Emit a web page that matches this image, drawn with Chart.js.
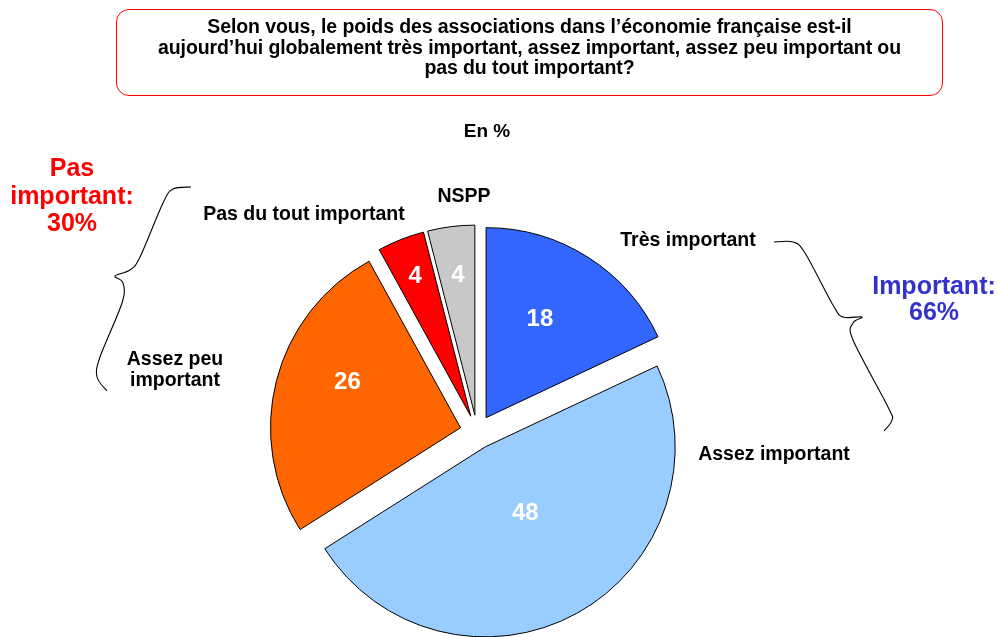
<!DOCTYPE html>
<html lang="fr">
<head>
<meta charset="utf-8">
<script src="https://cdn.jsdelivr.net/npm/chart.js@4/dist/chart.umd.min.js"></script>
<style>
  html, body { margin: 0; padding: 0; background: #fff; }
  #wrap { position: relative; width: 999px; height: 637px; overflow: hidden;
          font-family: "Liberation Sans", Arial, sans-serif; font-weight: bold; }
  #chart { position: absolute; left: 0; top: 0; }
  .txt { position: absolute; transform: translate(-50%, -50%); text-align: center; white-space: nowrap; }
  #question { position: absolute; left: 116px; top: 9px; width: 827px; height: 87px; box-sizing: border-box;
              border: 1.5px solid #ff0000; border-radius: 13px; text-align: center;
              font-size: 19.5px; line-height: 20.5px; padding-top: 6px; color: #000; letter-spacing: -0.1px; }
</style>
</head>
<body>
<div id="wrap">
  <canvas id="chart" width="999" height="637"></canvas>
  <div id="question">Selon vous, le poids des associations dans l’économie française est-il<br>aujourd’hui globalement très important, assez important, assez peu important ou<br>pas du tout important?</div>
  <div class="txt" style="left:487px; top:131px; font-size:19px;">En %</div>
  <div class="txt" style="left:72px; top:195px; font-size:25px; line-height:27.5px; color:#ff0000;">Pas<br>important:<br>30%</div>
  <div class="txt" style="left:934px; top:298px; font-size:25px; line-height:26px; color:#3333cc;">Important:<br>66%</div>
</div>
<script>
// =============================================
// Data
// =============================================
const categories = ['Très important', 'Assez important', 'Assez peu important', 'Pas du tout important', 'NSPP'];
const values     = [18, 48, 26, 4, 4];
const sliceColors = ['#3366ff', '#99ccff', '#ff6600', '#ff0000', '#c8c8c8'];

const EXPLODE = 17;   // px each slice is pushed out along its bisector

// Exploded slices without Chart.js' radius growth from `offset`
const baseArcDraw = Chart.ArcElement.prototype.draw;
Chart.ArcElement.prototype.draw = function (ctx) {
  const mid = (this.startAngle + this.endAngle) / 2;
  ctx.save();
  ctx.translate(Math.cos(mid) * EXPLODE, Math.sin(mid) * EXPLODE);
  baseArcDraw.call(this, ctx);
  ctx.restore();
};

// =============================================
// Label + brace plugin
// =============================================
function smoothCurve(ctx, pts) {
  ctx.beginPath();
  ctx.moveTo(pts[0][0], pts[0][1]);
  for (let i = 0; i < pts.length - 1; i++) {
    const p0 = pts[i - 1] || pts[i];
    const p1 = pts[i];
    const p2 = pts[i + 1];
    const p3 = pts[i + 2] || p2;
    ctx.bezierCurveTo(
      p1[0] + (p2[0] - p0[0]) / 6, p1[1] + (p2[1] - p0[1]) / 6,
      p2[0] - (p3[0] - p1[0]) / 6, p2[1] - (p3[1] - p1[1]) / 6,
      p2[0], p2[1]);
  }
  ctx.stroke();
}

const pieLabels = {
  id: 'pieLabels',
  afterDatasetsDraw(chart, args, opts) {
    const ctx = chart.ctx;
    const meta = chart.getDatasetMeta(0);
    ctx.save();
    ctx.textAlign = 'center';
    ctx.textBaseline = 'middle';

    // values inside the slices
    ctx.fillStyle = '#fff';
    ctx.font = 'bold 24px "Liberation Sans", Arial, sans-serif';
    meta.data.forEach((arc, i) => {
      const [fa, fr] = opts.inside[i];
      const ang = arc.startAngle + (arc.endAngle - arc.startAngle) * fa;
      const r = arc.outerRadius * fr;
      ctx.fillText(values[i], arc.x + Math.cos(ang) * r, arc.y + Math.sin(ang) * r);
    });

    // category names around the pie
    ctx.fillStyle = '#000';
    ctx.font = 'bold 19.5px "Liberation Sans", Arial, sans-serif';
    opts.outside.forEach((o) => {
      o.lines.forEach((line, k) => ctx.fillText(line, o.x, o.y + k * 21));
    });

    // curly braces
    ctx.strokeStyle = '#000';
    ctx.lineWidth = 1.1;
    opts.braces.forEach(pts => smoothCurve(ctx, pts));
    ctx.restore();
  }
};

// =============================================
// Chart
// =============================================
new Chart(document.getElementById('chart'), {
  type: 'pie',
  data: {
    labels: categories,
    datasets: [{
      data: values,
      backgroundColor: sliceColors,
      borderColor: '#000',
      borderWidth: 1,
      borderJoinStyle: 'miter',
      clip: false
    }]
  },
  options: {
    responsive: false,
    animation: false,
    radius: 190,
    layout: { padding: { left: 0, right: 45, top: 227, bottom: 0 } },
    plugins: {
      legend: { display: false },
      tooltip: { enabled: false },
      pieLabels: {
        inside: [[0.45, 0.68], [0.49, 0.50], [0.57, 0.73], [0.49, 0.88], [0.52, 0.83]],
        outside: [
          { lines: ['Très important'], x: 688, y: 241 },
          { lines: ['Assez important'], x: 774, y: 455 },
          { lines: ['Assez peu', 'important'], x: 175, y: 360 },
          { lines: ['Pas du tout important'], x: 304, y: 215 },
          { lines: ['NSPP'], x: 464, y: 197 }
        ],
        braces: [
          [[191, 187], [173, 189], [163, 203], [140, 257], [130, 270], [115, 276],
           [123, 283], [122, 303], [100, 357], [97, 377], [107, 391]],
          [[774, 242], [793, 242], [805, 253], [833, 305], [843, 317], [862, 317],
           [853, 323], [853, 340], [888, 407], [892, 420], [884, 431]]
        ]
      }
    }
  },
  plugins: [pieLabels]
});
</script>
</body>
</html>
